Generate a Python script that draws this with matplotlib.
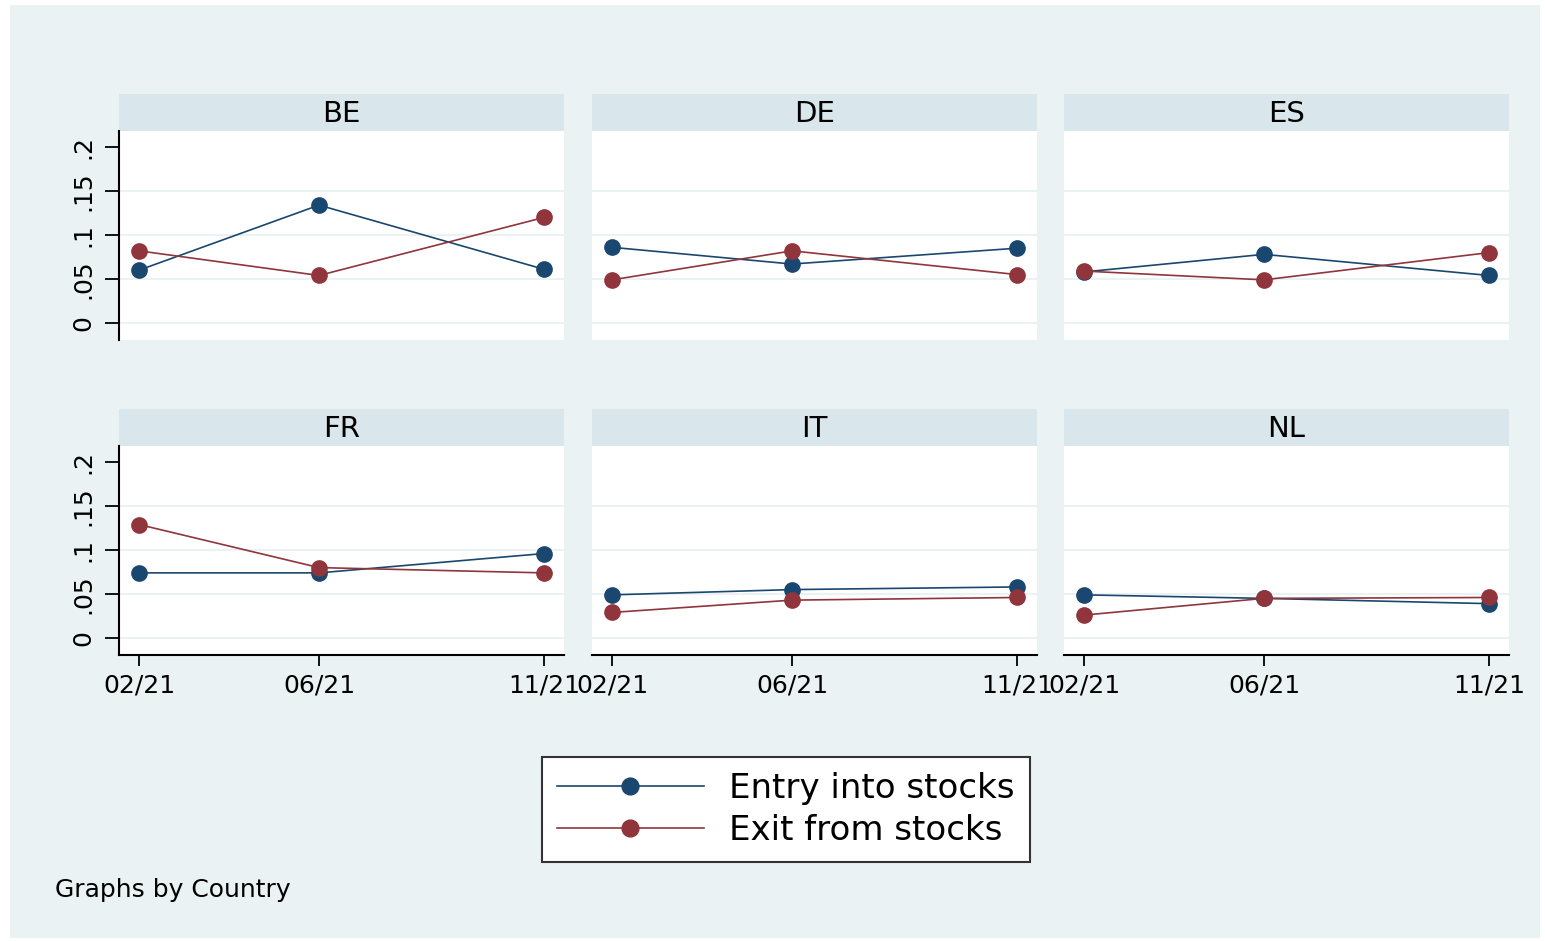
import matplotlib
matplotlib.use("Agg")
import matplotlib.pyplot as plt

plt.rcParams['font.family'] = ['DejaVu Sans']

countries = ['BE', 'DE', 'ES', 'FR', 'IT', 'NL']
months = [2, 6, 11]
month_labels = ['02/21', '06/21', '11/21']

entry = {
    'BE': [0.060, 0.134, 0.061],
    'DE': [0.086, 0.067, 0.085],
    'ES': [0.058, 0.078, 0.054],
    'FR': [0.074, 0.074, 0.096],
    'IT': [0.049, 0.055, 0.058],
    'NL': [0.049, 0.045, 0.039],
}
exit_ = {
    'BE': [0.082, 0.054, 0.120],
    'DE': [0.049, 0.082, 0.055],
    'ES': [0.059, 0.049, 0.080],
    'FR': [0.129, 0.080, 0.074],
    'IT': [0.029, 0.043, 0.046],
    'NL': [0.026, 0.045, 0.046],
}

NAVY = '#1a476f'
MAROON = '#90353b'
BG = '#eaf2f3'
STRIP = '#d9e6eb'

W, H = 1545, 941
fig = plt.figure(figsize=(W / 100, H / 100), dpi=100)
fig.patch.set_facecolor('white')

# Stata-like graph region
bgax = fig.add_axes([10 / W, 1 - 938 / H, 1530 / W, 933 / H])
bgax.set_facecolor(BG)
bgax.set_xticks([])
bgax.set_yticks([])
for s in bgax.spines.values():
    s.set_visible(False)


def px_axes(x0, y0, x1, y1):
    return fig.add_axes([x0 / W, 1 - y1 / H, (x1 - x0) / W, (y1 - y0) / H])


col_x = [(119, 564), (592, 1037), (1064, 1509)]
row_y = [(94, 131, 340), (409, 446, 655)]

lines = []
for i, c in enumerate(countries):
    r, k = divmod(i, 3)
    x0, x1 = col_x[k]
    ys, yp, yb = row_y[r]

    strip = px_axes(x0, ys, x1, yp + 1)
    strip.set_facecolor(STRIP)
    strip.set_xticks([])
    strip.set_yticks([])
    for s in strip.spines.values():
        s.set_visible(False)
    strip.text(0.5, 0.48, c, ha='center', va='center', fontsize=21,
               transform=strip.transAxes)

    ax = px_axes(x0, yp, x1, yb)
    ax.set_facecolor('white')
    ax.set_xlim(1.556, 11.444)
    ax.set_ylim(-0.0194, 0.2183)
    for yg in [0, 0.05, 0.10, 0.15]:
        ax.axhline(yg, color=BG, lw=1.5, zorder=0)

    l1, = ax.plot(months, entry[c], color=NAVY, lw=1.2, marker='o',
                  markersize=11, label='Entry into stocks', zorder=3)
    l2, = ax.plot(months, exit_[c], color=MAROON, lw=1.2, marker='o',
                  markersize=11, label='Exit from stocks', zorder=3)
    if i == 0:
        lines = [l1, l2]

    ax.spines['top'].set_visible(False)
    ax.spines['right'].set_visible(False)
    ax.spines['left'].set_visible(k == 0)
    ax.spines['bottom'].set_visible(r == 1)
    ax.spines['left'].set_linewidth(1.5)
    ax.spines['bottom'].set_linewidth(1.5)

    ax.set_yticks([0, 0.05, 0.10, 0.15, 0.20])
    if k == 0:
        ax.set_yticklabels(['0', '.05', '.1', '.15', '.2'], rotation=90,
                           va='center', fontsize=18)
        ax.tick_params(axis='y', length=10, width=1.3, pad=7)
    else:
        ax.tick_params(axis='y', left=False, labelleft=False)

    ax.set_xticks(months)
    if r == 1:
        ax.set_xticklabels(month_labels, fontsize=18)
        ax.tick_params(axis='x', length=8, width=1.3, pad=5)
    else:
        ax.tick_params(axis='x', bottom=False, labelbottom=False)

leg = fig.legend(lines, ['Entry into stocks', 'Exit from stocks'],
                 loc='center', bbox_to_anchor=(786 / W, 1 - 809.5 / H),
                 fontsize=24.5, handlelength=4.3, handletextpad=0.75,
                 labelspacing=0.25, borderpad=0.45, frameon=True,
                 fancybox=False, framealpha=1, borderaxespad=0,
                 markerscale=1.1)
leg.get_frame().set_edgecolor('#333333')
leg.get_frame().set_linewidth(1.5)

fig.text(55 / W, 1 - 890 / H, 'Graphs by Country', fontsize=18,
         ha='left', va='center')

fig.savefig('out.png', dpi=100, facecolor=fig.get_facecolor())
